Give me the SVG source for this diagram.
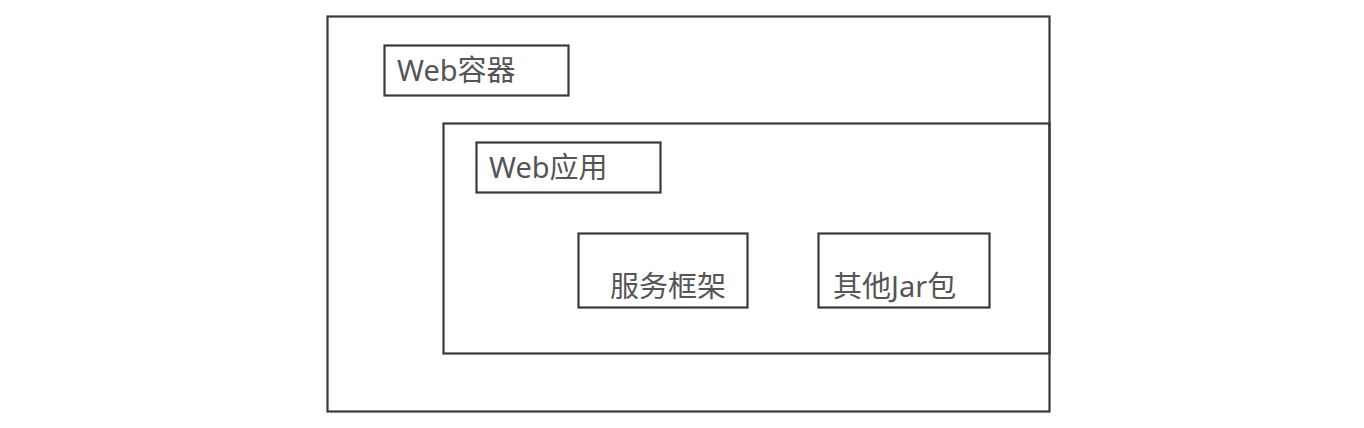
<svg xmlns="http://www.w3.org/2000/svg" width="1364" height="428" viewBox="0 0 1364 428">
<style>
.box{fill:none;stroke:#3a3a3a;stroke-width:2.2}
.t{font-family:"Noto Sans","Noto Sans CJK SC",sans-serif;font-size:29px;fill:#555}
</style>
<rect width="1364" height="428" fill="#fff"/>
<g id="web-container">
<rect class="box" x="327.5" y="16.5" width="722" height="395"/>
</g>
<g id="web-container-label">
<rect class="box" x="384.5" y="45.5" width="184" height="50"/>
<text class="t" x="397" y="81">Web容器</text>
</g>
<g id="web-app">
<rect class="box" x="443.5" y="123.5" width="606" height="230"/>
</g>
<g id="web-app-label">
<rect class="box" x="476.5" y="142.5" width="184" height="50"/>
<text class="t" x="489" y="178">Web应用</text>
</g>
<g id="service-framework">
<rect class="box" x="578.5" y="233.5" width="169" height="74"/>
<text class="t" x="610" y="297">服务框架</text>
</g>
<g id="other-jars">
<rect class="box" x="818.5" y="233.5" width="171" height="74"/>
<text class="t" x="833" y="297">其他Jar包</text>
</g>
<g id="connectors"/>
</svg>
